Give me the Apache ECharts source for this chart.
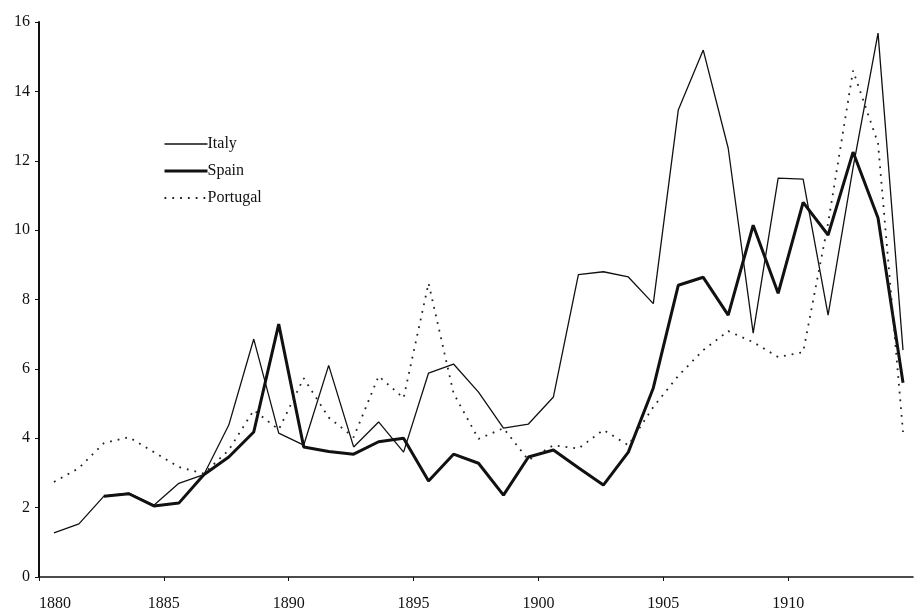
<!DOCTYPE html>
<html>
<head>
<meta charset="utf-8">
<script src="https://cdn.jsdelivr.net/npm/echarts@6/dist/echarts.min.js"></script>
<style>
  html, body { margin: 0; padding: 0; background: #fff; }
  #chart { width: 914px; height: 613px; }
</style>
</head>
<body>
<div id="chart"></div>
<script>
  // years 1880-1914
  const years = [];
  for (let y = 1880; y <= 1914; y++) years.push(y);

  const italy = [1.27, 1.53, 2.33, 2.42, 2.07, 2.7, 2.95, 4.38, 6.86, 4.15,
    3.8, 6.1, 3.75, 4.47, 3.6, 5.88, 6.14, 5.33, 4.29, 4.41,
    5.19, 8.72, 8.8, 8.65, 7.88, 13.46, 15.19, 12.36, 7.03, 11.5,
    11.47, 7.55, 11.8, 15.68, 6.54];

  // Spain starts in 1882
  const spain = [null, null, 2.33, 2.4, 2.05, 2.13, 2.95, 3.46, 4.18, 7.29,
    3.75, 3.62, 3.54, 3.9, 4.0, 2.77, 3.54, 3.28, 2.36, 3.46,
    3.66, 3.15, 2.65, 3.6, 5.45, 8.41, 8.64, 7.55, 10.14, 8.18,
    10.8, 9.86, 12.25, 10.35, 5.6];

  const portugal = [2.74, 3.14, 3.86, 4.03, 3.6, 3.17, 2.98, 3.66, 4.81, 4.25,
    5.73, 4.6, 4.03, 5.79, 5.16, 8.47, 5.3, 3.98, 4.29, 3.37,
    3.8, 3.7, 4.24, 3.8, 4.9, 5.8, 6.54, 7.09, 6.77, 6.34,
    6.48, 10.2, 14.6, 12.5, 4.18];

  const font = '"Liberation Serif", "DejaVu Serif", serif';

  // points sit inside each year's span
  function pairs(vals) {
    return vals.map((v, i) => [years[i] + 0.6, v]).filter(p => p[1] !== null);
  }

  const chart = echarts.init(document.getElementById('chart'));
  chart.setOption({
    animation: false,
    backgroundColor: '#fff',
    grid: { left: 39, top: 22, right: 1, bottom: 36 },
    legend: {
      orient: 'vertical',
      left: 158,
      top: 131,
      itemWidth: 43,
      itemHeight: 14,
      itemGap: 11,
      itemStyle: { opacity: 0 },
      textStyle: { fontFamily: font, fontSize: 16, color: '#111', padding: [0, 0, 0, -5] },
      data: [
        { name: 'Italy', lineStyle: { width: 1.3 } },
        { name: 'Spain', lineStyle: { width: 3 } },
        { name: 'Portugal' }
      ]
    },
    xAxis: {
      type: 'value',
      min: 1880,
      max: 1915,
      interval: 5,
      splitLine: { show: false },
      axisLine: { lineStyle: { color: '#111', width: 1.6 } },
      axisTick: { inside: false, length: 4, lineStyle: { color: '#111', width: 1 } },
      axisLabel: {
        margin: 19,
        color: '#111',
        fontFamily: font,
        fontSize: 16,
        alignMinLabel: 'left',
        showMaxLabel: false,
        formatter: v => String(v)
      }
    },
    yAxis: {
      type: 'value',
      min: 0,
      max: 16,
      interval: 2,
      splitLine: { show: false },
      axisLine: { show: true, lineStyle: { color: '#111', width: 2 } },
      axisTick: { show: true, length: 4, lineStyle: { color: '#111', width: 1 } },
      axisLabel: { margin: 9, color: '#111', fontFamily: font, fontSize: 16 }
    },
    series: [
      {
        name: 'Italy',
        type: 'line',
        data: pairs(italy),
        symbol: 'none',
        itemStyle: { color: '#111' },
        lineStyle: { color: '#111', width: 1.3 }
      },
      {
        name: 'Spain',
        type: 'line',
        data: pairs(spain),
        symbol: 'none',
        itemStyle: { color: '#111' },
        lineStyle: { color: '#111', width: 3 }
      },
      {
        name: 'Portugal',
        type: 'line',
        data: pairs(portugal),
        symbol: 'none',
        itemStyle: { color: '#111' },
        lineStyle: { color: '#222', width: 1.8, type: [1.8, 6] }
      }
    ]
  });
</script>
</body>
</html>
